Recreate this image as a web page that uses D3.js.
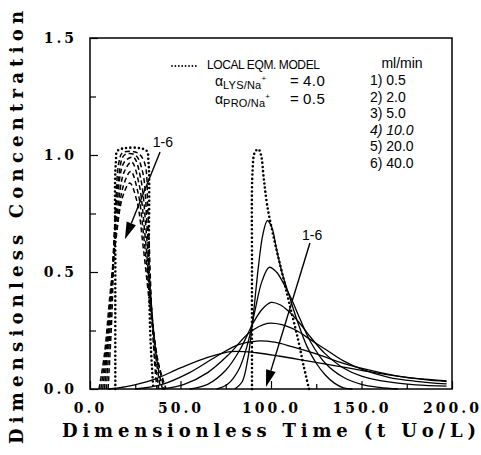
<!DOCTYPE html>
<html><head><meta charset="utf-8">
<script src="https://cdn.jsdelivr.net/npm/d3@7"></script>
<style>body{margin:0;background:#fff}</style>
</head><body>
<svg id="c" width="481" height="455"></svg>
<script>
// ---- data (t, C) ----
const timeTicks = [0, 50, 100, 150, 200];
const timeMinor = [25, 75, 125, 175];
const concTicks = [0, 0.5, 1.0, 1.5];
const concMinor = [0.25, 0.75, 1.25];
const flowLabels = ["1) 0.5", "2) 2.0", "3) 5.0", "4) 10.0", "5) 20.0", "6) 40.0"];

const proEqm = [[14,0],[14,0.5],[14.3,0.97],[15.5,1.02],[31,1.02],[32.3,0.97],[32.5,0.5],[33.5,0.2],[35,0]];
const lysEqm = [[89.5,0],[89.5,0.5],[89.8,0.93],[91,1.01],[93,1.025],[94.5,1.0],[96,0.9],[98,0.78],[102,0.63],[106,0.5],[110,0.37],[115,0.21],[118,0.1],[121,0]];

const pro1 = [[10,0],[12,0.3],[14,0.75],[16,0.97],[18,1.01],[26,1.01],[30,0.97],[32,0.75],[34,0.35],[36,0.08],[37,0]];
const pro2 = [[9,0],[11,0.25],[13,0.6],[15.5,0.88],[19,1.0],[25,1.0],[29,0.93],[31.5,0.7],[33.5,0.4],[36,0.12],[38,0]];
const pro3 = [[8,0],[10,0.2],[12.5,0.5],[15,0.8],[19,0.97],[24,0.99],[28,0.9],[31,0.68],[33.5,0.4],[36.5,0.13],[39,0]];
const pro4 = [[7,0],[9.5,0.18],[12,0.45],[15,0.75],[19,0.93],[23,0.97],[27,0.88],[30.5,0.65],[33.5,0.38],[37,0.12],[40,0]];
const pro5 = [[6,0],[9,0.18],[12,0.45],[15,0.7],[18.5,0.87],[22.5,0.93],[26.5,0.84],[30,0.63],[33.5,0.36],[37.5,0.12],[41,0]];
const pro6 = [[5,0],[8,0.15],[11,0.4],[14.5,0.65],[18,0.82],[22,0.88],[26,0.8],[29.5,0.6],[33,0.36],[37.5,0.12],[42,0]];

const lys1 = [[80,0],[84,0.03],[87,0.12],[90,0.3],[93,0.52],[95.5,0.66],[98,0.72],[100.5,0.69],[103,0.6],[106,0.5],[110,0.4],[115,0.28],[120,0.18],[125,0.11],[130,0.06],[135,0.025],[140,0.005],[145,0]];
const lys2 = [[70,0],[76,0.02],[82,0.08],[87,0.19],[91,0.33],[95,0.46],[99,0.52],[103,0.5],[107,0.45],[111,0.39],[116,0.3],[122,0.2],[130,0.11],[140,0.05],[150,0.02],[160,0.007],[170,0]];
const lys3 = [[55,0],[65,0.02],[75,0.08],[83,0.17],[90,0.28],[95,0.34],[100,0.37],[105,0.36],[110,0.33],[116,0.28],[122,0.22],[130,0.15],[140,0.09],[150,0.055],[165,0.03],[180,0.018],[197,0.012]];
const lys4 = [[40,0],[52,0.02],[65,0.07],[77,0.15],[88,0.24],[98,0.28],[106,0.275],[114,0.25],[122,0.21],[130,0.17],[140,0.12],[150,0.085],[165,0.05],[180,0.033],[197,0.022]];
const lys5 = [[25,0],[40,0.02],[55,0.07],[70,0.14],[82,0.19],[92,0.205],[102,0.2],[112,0.18],[125,0.15],[140,0.11],[155,0.08],[170,0.055],[185,0.04],[197,0.032]];
const lys6 = [[10,0],[20,0.01],[35,0.04],[50,0.09],[65,0.135],[78,0.16],[92,0.155],[105,0.14],[120,0.12],[135,0.1],[150,0.08],[165,0.06],[180,0.045],[197,0.035]];

// arrows: [t0, C0, t1, C1] and label [t, C]
const arrows = [[38.7, 1.013, 19.3, 0.64], [121.5, 0.624, 97.2, 0.009]];
const arrowLabels = [[40.3, 1.034, "1-6"], [122.7, 0.637, "1-6"]];

// ---- chart ----
const svg = d3.select("#c");
const x = d3.scaleLinear().domain([0, 200]).range([90, 452]);
const y = d3.scaleLinear().domain([0, 1.5]).range([389, 38]);
const serif = "'DejaVu Serif', serif";
const sans = "'Liberation Sans', Arial, sans-serif";

const line = d3.line().x(d => x(d[0])).y(d => y(d[1])).curve(d3.curveCatmullRom.alpha(0.5));

// axes
svg.append("g").attr("transform", `translate(0,${y(0)})`)
  .call(d3.axisBottom(x).tickValues(timeTicks).tickSize(-8).tickSizeOuter(0).tickPadding(14).tickFormat(d3.format(".1f")));
svg.append("g").attr("transform", `translate(0,${y(0)})`)
  .call(d3.axisBottom(x).tickValues(timeMinor).tickSize(-5).tickSizeOuter(0).tickFormat(""));
svg.append("g").attr("transform", `translate(${x(0)},0)`)
  .call(d3.axisLeft(y).tickValues(concTicks).tickSize(-8).tickSizeOuter(0).tickPadding(13).tickFormat(d3.format(".1f")));
svg.append("g").attr("transform", `translate(${x(0)},0)`)
  .call(d3.axisLeft(y).tickValues(concMinor).tickSize(-6).tickSizeOuter(0).tickFormat(""));
svg.selectAll(".domain").remove();
svg.selectAll(".tick line").attr("stroke", "#000").attr("stroke-width", 1.2);
svg.selectAll(".tick text").attr("font-family", serif).attr("font-weight", "bold")
  .attr("font-size", 14).attr("letter-spacing", 3).attr("fill", "#000");

// frame
svg.append("rect").attr("x", x(0)).attr("y", y(1.5)).attr("width", x(200) - x(0)).attr("height", y(0) - y(1.5))
  .attr("fill", "none").attr("stroke", "#000").attr("stroke-width", 1.5);

// curves
const solid = [lys1, lys2, lys3, lys4, lys5, lys6];
const dashed = [pro1, pro2, pro3, pro4, pro5, pro6];
svg.append("g").selectAll("path").data(solid).join("path")
  .attr("d", line).attr("fill", "none").attr("stroke", "#000").attr("stroke-width", 1.3);
svg.append("g").selectAll("path").data(dashed).join("path")
  .attr("d", line).attr("fill", "none").attr("stroke", "#000").attr("stroke-width", 1.5)
  .attr("stroke-dasharray", "5,3");
svg.append("g").selectAll("path").data([proEqm, lysEqm]).join("path")
  .attr("d", line).attr("fill", "none").attr("stroke", "#000").attr("stroke-width", 2.6)
  .attr("stroke-linecap", "round").attr("stroke-dasharray", "0,4.2");

// arrows
arrows.forEach(a => {
  const x0 = x(a[0]), y0 = y(a[1]), x1 = x(a[2]), y1 = y(a[3]);
  const ang = Math.atan2(y1 - y0, x1 - x0);
  const L = 17, W = 5;
  const bx = x1 - L * Math.cos(ang), by = y1 - L * Math.sin(ang);
  svg.append("line").attr("x1", x0).attr("y1", y0).attr("x2", bx).attr("y2", by)
    .attr("stroke", "#000").attr("stroke-width", 1.4);
  const p = [[x1, y1], [bx + W * Math.sin(ang), by - W * Math.cos(ang)], [bx - W * Math.sin(ang), by + W * Math.cos(ang)]];
  svg.append("polygon").attr("points", p.map(q => q.join(",")).join(" ")).attr("fill", "#000");
});
svg.append("g").selectAll("text").data(arrowLabels).join("text")
  .attr("x", d => x(d[0])).attr("y", d => y(d[1])).attr("text-anchor", "middle")
  .attr("font-family", sans).attr("font-size", 14).attr("fill", "#000").text(d => d[2]);

// legend
svg.append("line").attr("x1", 172).attr("x2", 196).attr("y1", 66).attr("y2", 66)
  .attr("stroke", "#000").attr("stroke-width", 1.8).attr("stroke-linecap", "round").attr("stroke-dasharray", "0,3.4");
svg.append("text").attr("x", 207).attr("y", 69).attr("font-family", sans).attr("font-size", 12)
  .attr("letter-spacing", -0.4).text("LOCAL EQM. MODEL");

function alphaLine(sub, val, yb) {
  const t = svg.append("text").attr("x", 215).attr("y", yb).attr("font-family", sans).attr("fill", "#000");
  t.append("tspan").attr("font-size", 14).text("α");
  t.append("tspan").attr("font-size", 11).attr("dy", 3).attr("letter-spacing", 0.2).text(sub);
  t.append("tspan").attr("font-size", 8).attr("dy", -8).text("+");
  t.append("tspan").attr("x", 290).attr("y", yb).attr("font-size", 15).text("= ");
  t.append("tspan").attr("x", 303).attr("y", yb).attr("font-size", 15).attr("letter-spacing", 0.5).text(val);
}
alphaLine("LYS/Na", "4.0", 86);
alphaLine("PRO/Na", "0.5", 104);

svg.append("text").attr("x", 402).attr("y", 68).attr("text-anchor", "middle").attr("font-family", sans)
  .attr("font-size", 14).text("ml/min");
svg.append("g").selectAll("text").data(flowLabels).join("text")
  .attr("x", 370).attr("y", (d, i) => 85 + i * 16.6).attr("font-family", sans).attr("font-size", 14)
  .attr("font-style", (d, i) => i === 3 ? "italic" : "normal").text(d => d);

// axis titles
svg.append("text").attr("x", 62).attr("y", 437).attr("font-family", serif).attr("font-weight", "bold")
  .attr("font-size", 18).attr("textLength", 414).attr("lengthAdjust", "spacing")
  .text("Dimensionless Time (t Uo/L)");
svg.append("text").attr("transform", "translate(23,444) rotate(-90)").attr("font-family", serif)
  .attr("font-weight", "bold").attr("font-size", 18).attr("textLength", 433).attr("lengthAdjust", "spacing")
  .text("Dimensionless Concentration");
</script>
</body></html>
